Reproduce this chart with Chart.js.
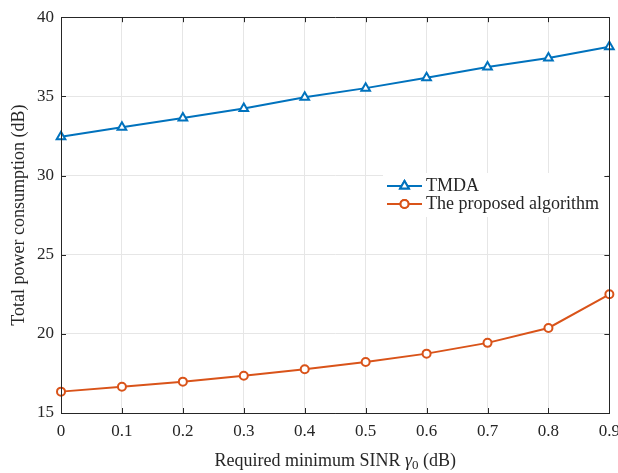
<!DOCTYPE html>
<html>
<head>
<meta charset="utf-8">
<script src="https://cdn.jsdelivr.net/npm/chart.js@4/dist/chart.umd.min.js"></script>
<style>
  html, body { margin: 0; padding: 0; background: #fff; overflow: hidden; }
  #wrap { width: 618px; height: 473px; overflow: hidden; }
</style>
</head>
<body>
<div id="wrap"><canvas id="chart" width="628" height="473"></canvas></div>
<script>
// Data
const sinrValues = [0, 0.1, 0.2, 0.3, 0.4, 0.5, 0.6, 0.7, 0.8, 0.9];
const tmdaPower = [32.45, 33.05, 33.63, 34.24, 34.95, 35.52, 36.18, 36.85, 37.42, 38.14];
const proposedPower = [16.35, 16.66, 16.98, 17.35, 17.76, 18.22, 18.75, 19.43, 20.37, 22.5];
const xTicks = [0, 0.1, 0.2, 0.3, 0.4, 0.5, 0.6, 0.7, 0.8, 0.9];
const yTicks = [15, 20, 25, 30, 35, 40];

const FONT = '"Liberation Serif", "Times New Roman", serif';
const AXIS_COLOR = '#262626';
const BLUE = '#0072BD';
const ORANGE = '#D95319';

// MATLAB-ish legend, box, inward ticks and x label with subscript
const matlabLook = {
    id: 'matlabLook',
    afterDraw(chart) {
        const ctx = chart.ctx;
        const a = chart.chartArea;
        const xs = chart.scales.x, ys = chart.scales.y;
        ctx.save();

        // legend (white background over the grid)
        ctx.fillStyle = '#fff';
        ctx.fillRect(383, 173, 224, 44);
        const rows = [
            { ds: chart.data.datasets[0], y: 186 },
            { ds: chart.data.datasets[1], y: 204 }
        ];
        rows.forEach(r => {
            ctx.strokeStyle = r.ds.borderColor;
            ctx.lineWidth = 2;
            ctx.beginPath();
            ctx.moveTo(387, r.y); ctx.lineTo(422, r.y);
            ctx.stroke();
            Chart.helpers.drawPoint(ctx, {
                pointStyle: r.ds.pointStyle, radius: r.ds.pointRadius,
                borderWidth: r.ds.pointBorderWidth, rotation: 0
            }, 404.5, r.y);
            ctx.fillStyle = '#fff';
            ctx.fill();
            ctx.stroke();
            ctx.fillStyle = AXIS_COLOR;
            ctx.font = '18px ' + FONT;
            ctx.textBaseline = 'middle';
            ctx.textAlign = 'left';
            ctx.fillText(r.ds.label, 426, r.y);
        });

        // axes box
        ctx.strokeStyle = AXIS_COLOR;
        ctx.lineWidth = 1;
        ctx.beginPath();
        ctx.rect(Math.round(a.left) + 0.5, Math.round(a.top) + 0.5,
                 Math.round(a.right - a.left), Math.round(a.bottom - a.top));
        // inward ticks
        xTicks.forEach(v => {
            const px = Math.round(xs.getPixelForValue(v)) + 0.5;
            ctx.moveTo(px, a.bottom); ctx.lineTo(px, a.bottom - 5);
            ctx.moveTo(px, a.top); ctx.lineTo(px, a.top + 5);
        });
        yTicks.forEach(v => {
            const py = Math.round(ys.getPixelForValue(v)) + 0.5;
            ctx.moveTo(a.left, py); ctx.lineTo(a.left + 5, py);
            ctx.moveTo(a.right, py); ctx.lineTo(a.right - 5, py);
        });
        ctx.stroke();

        // x axis title: Required minimum SINR γ0 (dB)
        const size = 18;
        const parts = [
            { t: 'Required minimum SINR ', f: size + 'px ' + FONT, dy: 0 },
            { t: 'γ', f: 'italic ' + size + 'px ' + FONT, dy: 0 },
            { t: '0', f: Math.round(size * 0.7) + 'px ' + FONT, dy: 5 },
            { t: ' (dB)', f: size + 'px ' + FONT, dy: 0 }
        ];
        let total = 0;
        parts.forEach(p => { ctx.font = p.f; p.w = ctx.measureText(p.t).width; total += p.w; });
        let x = (a.left + a.right) / 2 - total / 2;
        ctx.fillStyle = AXIS_COLOR;
        ctx.textBaseline = 'middle';
        ctx.textAlign = 'left';
        parts.forEach(p => { ctx.font = p.f; ctx.fillText(p.t, x, 461 + p.dy); x += p.w; });
        ctx.restore();
    }
};

new Chart(document.getElementById('chart'), {
    type: 'line',
    data: {
        datasets: [
            {
                label: 'TMDA',
                data: sinrValues.map((x, i) => ({ x: x, y: tmdaPower[i] })),
                borderColor: BLUE,
                backgroundColor: '#fff',
                borderWidth: 2,
                pointStyle: 'triangle',
                pointRadius: 5,
                pointBorderWidth: 2,
                pointBackgroundColor: '#fff',
                pointBorderColor: BLUE,
                tension: 0
            },
            {
                label: 'The proposed algorithm',
                data: sinrValues.map((x, i) => ({ x: x, y: proposedPower[i] })),
                borderColor: ORANGE,
                backgroundColor: '#fff',
                borderWidth: 2,
                pointStyle: 'circle',
                pointRadius: 4,
                pointBorderWidth: 2,
                pointBackgroundColor: '#fff',
                pointBorderColor: ORANGE,
                tension: 0
            }
        ]
    },
    options: {
        responsive: false,
        animation: false,
        clip: false,
        layout: { padding: { top: 16, right: 7, left: 0, bottom: 0 } },
        plugins: {
            legend: { display: false },
            tooltip: { enabled: false }
        },
        scales: {
            x: {
                type: 'linear',
                min: 0,
                max: 0.9,
                afterBuildTicks: s => { s.ticks = xTicks.map(v => ({ value: v })); },
                afterFit: s => { s.height = 60; },
                grid: { color: '#e6e6e6', drawTicks: false },
                border: { color: AXIS_COLOR },
                ticks: {
                    color: AXIS_COLOR,
                    font: { family: FONT, size: 17 },
                    padding: 8,
                    maxRotation: 0,
                    callback: v => String(v)
                }
            },
            y: {
                type: 'linear',
                min: 15,
                max: 40,
                afterBuildTicks: s => { s.ticks = yTicks.map(v => ({ value: v })); },
                afterFit: s => { s.width = 61; },
                grid: { color: '#e6e6e6', drawTicks: false },
                border: { color: AXIS_COLOR },
                title: {
                    display: true,
                    text: 'Total power consumption (dB)',
                    color: AXIS_COLOR,
                    font: { family: FONT, size: 18 },
                    padding: { top: 8, bottom: 0 }
                },
                ticks: {
                    color: AXIS_COLOR,
                    font: { family: FONT, size: 17 },
                    padding: 7
                }
            }
        }
    },
    plugins: [matlabLook]
});
</script>
</body>
</html>
